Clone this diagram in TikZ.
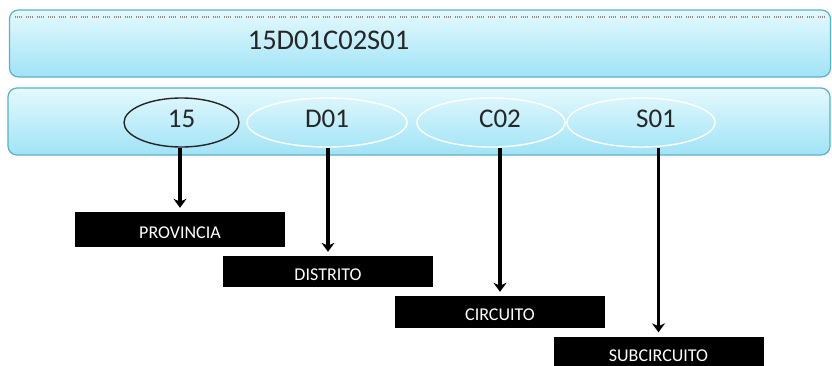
\documentclass[tikz,border=0pt]{standalone}
\usepackage{fontspec}
\setmainfont{Carlito}
\usetikzlibrary{shapes.geometric, arrows.meta, positioning}
\definecolor{barline}{RGB}{92,176,200}
\definecolor{bartop}{RGB}{228,249,253}
\definecolor{barbottom}{RGB}{160,227,246}

\begin{document}
\begin{tikzpicture}[
  x=1pt, y=-1pt,
  bar/.style={rectangle, draw=barline, line width=1.2pt, rounded corners=9pt, top color=bartop, bottom color=barbottom, minimum width=821pt, minimum height=67pt, inner sep=0pt},
  oval/.style={ellipse, draw=white, line width=1.4pt, minimum height=49pt, inner sep=0pt},
  ovaltext/.style={font=\fontsize{27}{28}\selectfont, text=black!85},
  level/.style={rectangle, fill=black, text=white, minimum width=210pt, minimum height=33pt, inner sep=0pt, text height=17pt, text depth=0pt, font=\fontsize{18}{19}\selectfont},
  arrow/.style={-{Stealth[length=9pt, width=13pt]}, line width=3.2pt, shorten >=4pt}
]
\clip (0,0) rectangle (832,365);

% Code bars
\node[bar] (codebar) at (420,43.5) {};
\node[bar, minimum width=822pt] (partsbar) at (419,121.5) {};
\draw[black!45, line width=2pt, dash pattern=on 1pt off 1pt on 1pt off 1pt on 1pt off 1pt on 1pt off 4pt] ([xshift=6pt, yshift=-8pt]codebar.north west) -- ([xshift=-6pt, yshift=-8pt]codebar.north east);
\node[font=\fontsize{28.5}{30}\selectfont, text=black!85] (code) at (328.5,40) {15D01C02S01};

% Code parts
\node[oval, draw=black!85, minimum width=115pt, label={[ovaltext, yshift=4pt]center:15}] (prov) at (181.5,122.5) {};
\node[oval, minimum width=160pt, label={[ovaltext, yshift=4pt]center:D01}] (dist) at (327,122.5) {};
\node[oval, minimum width=148pt, label={[ovaltext, xshift=9pt, yshift=4pt]center:C02}] (circ) at (491,122.5) {};
\node[oval, minimum width=148pt, label={[ovaltext, xshift=15pt, yshift=4pt]center:S01}] (subc) at (641,122.5) {};

% Levels
\node[level, minimum height=35pt] (provbox) at (180,229.5) {PROVINCIA};
\node[level, minimum height=31pt] (distbox) at (328,271.5) {DISTRITO};
\node[level, minimum height=32pt] (circbox) at (500,312) {CIRCUITO};
\node[level] (subcbox) at (658.5,353) {SUBCIRCUITO};

% Arrows parts -> levels
\draw[arrow] (prov.south -| provbox.north) -- (provbox.north);
\draw[arrow] (dist.south -| distbox.north) -- (distbox.north);
\draw[arrow] (circ.south -| circbox.north) -- (circbox.north);
\draw[arrow] (subc.south -| subcbox.north) -- (subcbox.north);

\end{tikzpicture}
\end{document}
